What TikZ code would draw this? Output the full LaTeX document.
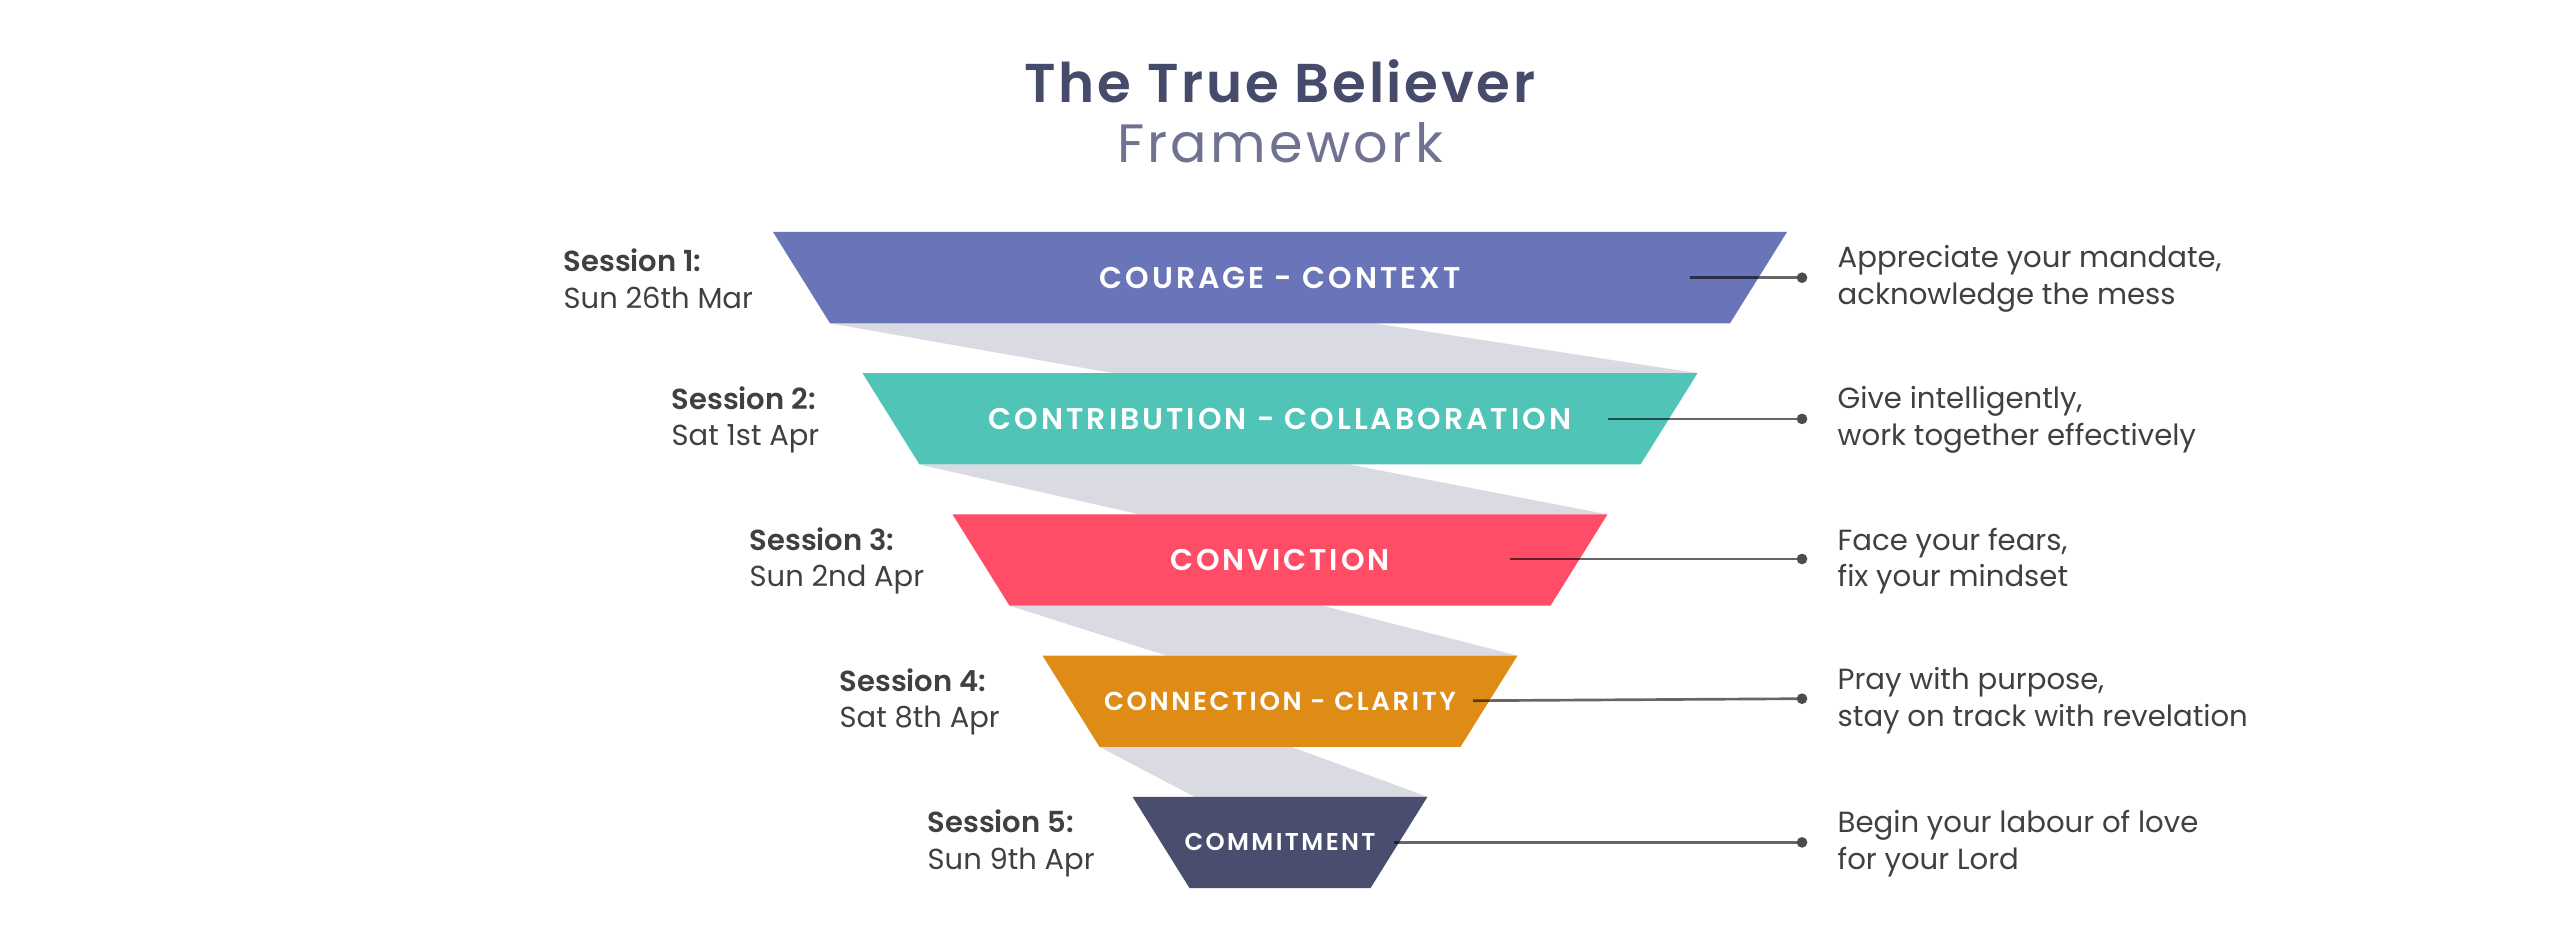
\documentclass[tikz,border=0pt]{standalone}
\usepackage{fontspec}
\setmainfont{Poppins}
\newfontfamily\semib{Poppins SemiBold}
\newfontfamily\titlef[LetterSpace=5]{Poppins SemiBold}
\newfontfamily\subtitlef[LetterSpace=6]{Poppins}
\newfontfamily\bandf[LetterSpace=10]{Poppins SemiBold}
\definecolor{cpurple}{HTML}{6A75B9}
\definecolor{cteal}{HTML}{50C4B7}
\definecolor{cred}{HTML}{FF4D67}
\definecolor{corange}{HTML}{DF8C17}
\definecolor{cnavy}{HTML}{4A4E6E}
\definecolor{cribbon}{HTML}{DADAE2}
\definecolor{ctitle}{HTML}{474B6B}
\definecolor{csub}{HTML}{6F7290}
\definecolor{ctext}{HTML}{404040}
\begin{document}
\begin{tikzpicture}[x=0.3pt,y=-0.3pt,
  ribbon/.style={fill=cribbon},
  bandlabel/.style={text=white,font=\bandf\fontsize{9}{11}\selectfont,inner sep=0pt},
  midlabel/.style={text=white,font=\bandf\fontsize{7.8}{9}\selectfont,inner sep=0pt},
  smalllabel/.style={text=white,font=\bandf\fontsize{7.3}{9}\selectfont,inner sep=0pt},
  desc/.style={text=ctext,font=\fontsize{8.75}{11}\selectfont,align=left,anchor=west,inner sep=0pt},
  sess/.style={text=ctext,font=\fontsize{8.7}{11}\selectfont,align=left,anchor=west,inner sep=0pt},
  conn/.style={draw=black,draw opacity=0.6,line width=0.8pt},
  dot/.style={circle,fill=black!70,inner sep=0pt,minimum size=3.2pt}]
\useasboundingbox (0,0) rectangle (2560,937);
% title
\node[anchor=base,text=ctitle,font=\titlef\fontsize{16.4}{20}\selectfont,inner sep=0pt] (title) at (1280,103) {The True Believer};
\node[anchor=base,text=csub,font=\subtitlef\fontsize{16.2}{20}\selectfont,inner sep=0pt] (subtitle) at (1280,163) {Framework};
% ribbons
\fill[ribbon] (830,323.3) -- (1374,323.3) -- (1697.5,373.2) -- (1113.5,373.2) -- cycle;
\fill[ribbon] (919.5,464.5) -- (1349.5,464.5) -- (1607.5,514.4) -- (1139.5,514.4) -- cycle;
\fill[ribbon] (1009.5,605.7) -- (1322.5,605.7) -- (1517.5,655.6) -- (1166.5,655.6) -- cycle;
\fill[ribbon] (1099.5,746.9) -- (1291.5,746.9) -- (1427.5,796.8) -- (1194.5,796.8) -- cycle;
% bands
\fill[cpurple] (773,232) -- (1787,232) -- (1730,323.3) -- (830,323.3) -- cycle;
\fill[cteal] (862.5,373.2) -- (1697.5,373.2) -- (1640.5,464.5) -- (919.5,464.5) -- cycle;
\fill[cred] (952.5,514.4) -- (1607.5,514.4) -- (1550.5,605.7) -- (1009.5,605.7) -- cycle;
\fill[corange] (1042.5,655.6) -- (1517.5,655.6) -- (1460.5,746.9) -- (1099.5,746.9) -- cycle;
\fill[cnavy] (1132.5,796.8) -- (1427.5,796.8) -- (1370.5,888.1) -- (1189.5,888.1) -- cycle;
% band labels
\node[bandlabel] (b1) at (1280,277.7) {COURAGE - CONTEXT};
\node[bandlabel] (b2) at (1280,418.9) {CONTRIBUTION - COLLABORATION};
\node[bandlabel] (b3) at (1280,560) {CONVICTION};
\node[midlabel] (b4) at (1280,701.2) {CONNECTION - CLARITY};
\node[smalllabel] (b5) at (1280,842.4) {COMMITMENT};
% connector coordinates
\coordinate (s1) at (1690,277.7); \coordinate (e1) at (1802,277.7);
\coordinate (s2) at (1608,418.9); \coordinate (e2) at (1802,418.9);
\coordinate (s3) at (1510,559);   \coordinate (e3) at (1802,559);
\coordinate (s4) at (1473,700.7); \coordinate (e4) at (1802,698.7);
\coordinate (s5) at (1394,842.4); \coordinate (e5) at (1802,842.4);
\foreach \i in {1,...,5}{
  \draw[conn] (s\i) -- (e\i);
  \node[dot] (d\i) at (e\i) {};
}
% descriptions
\node[desc] (r1) at (1837,279) {Appreciate your mandate,\\acknowledge the mess};
\node[desc] (r2) at (1837,420) {Give intelligently,\\work together effectively};
\node[desc] (r3) at (1837,561) {Face your fears,\\fix your mindset};
\node[desc] (r4) at (1837,701) {Pray with purpose,\\stay on track with revelation};
\node[desc] (r5) at (1837,843.5) {Begin your labour of love\\for your Lord};
% sessions
\node[sess] (l1) at (563,279) {{\semib Session 1:}\\Sun 26th Mar};
\node[sess] (l2) at (671,420) {{\semib Session 2:}\\Sat 1st Apr};
\node[sess] (l3) at (749,561) {{\semib Session 3:}\\Sun 2nd Apr};
\node[sess] (l4) at (839,702) {{\semib Session 4:}\\Sat 8th Apr};
\node[sess] (l5) at (927,843.5) {{\semib Session 5:}\\Sun 9th Apr};
\end{tikzpicture}
\end{document}
